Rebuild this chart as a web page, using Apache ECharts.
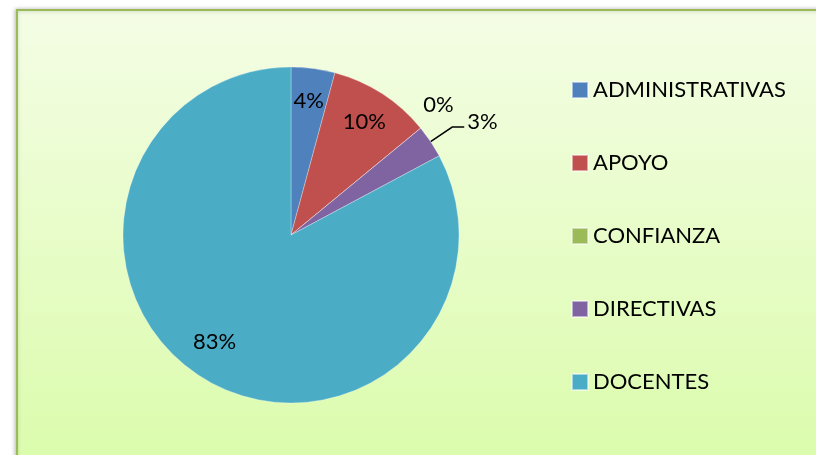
<!DOCTYPE html>
<html>
<head>
<meta charset="utf-8">
<script src="https://cdn.jsdelivr.net/npm/echarts@6/dist/echarts.min.js"></script>
<style>
  html, body { margin: 0; padding: 0; background: #fff; }
  #chart { width: 816px; height: 455px; }
</style>
</head>
<body>
<div id="chart"></div>
<script>
// categorias y valores
var categories = ['ADMINISTRATIVAS', 'APOYO', 'CONFIANZA', 'DIRECTIVAS', 'DOCENTES'];
var values = [12, 28, 0, 9, 236];

var palette = ['#4f81bd', '#c0504d', '#9bbb59', '#8064a2', '#4bacc6'];
var fontFam = 'Lato, "Open Sans", sans-serif';

var myChart = echarts.init(document.getElementById('chart'));

var pieData = categories.map(function (name, i) {
    return { name: name, value: values[i] };
});

// serie de etiquetas (transparente), para ubicar los % mas afuera del centro
var labelData = categories.map(function (name, i) {
    var item = { name: name, value: values[i] };
    if (name === 'CONFIANZA') {
        item.label = { position: 'outside', distanceToLabelLine: -23 };
        item.labelLine = { show: false, length: 33, length2: 0 };
    } else if (name === 'DIRECTIVAS') {
        item.label = { position: 'outside', distanceToLabelLine: 3 };
        item.labelLine = { show: true, length: 26, length2: 12, lineStyle: { color: '#000', width: 1.5 } };
    }
    return item;
});

var option = {
    animation: false,
    color: palette,
    graphic: [{
        type: 'rect',
        shape: { x: 17, y: 10, width: 830, height: 470 },
        style: {
            fill: new echarts.graphic.LinearGradient(0, 0, 0, 1, [
                { offset: 0, color: '#f4fde5' },
                { offset: 1, color: '#dafcaa' }
            ]),
            stroke: '#9bbb59',
            lineWidth: 2,
            shadowBlur: 4,
            shadowColor: 'rgba(0,0,0,0.25)',
            shadowOffsetX: -1
        },
        z: -10
    }],
    legend: {
        orient: 'vertical',
        left: 566,
        top: 74,
        itemWidth: 16,
        itemHeight: 16,
        itemGap: 51,
        icon: 'rect',
        data: categories,
        textStyle: { fontFamily: fontFam, fontSize: 22, color: '#000', lineHeight: 22 }
    },
    series: [
        {
            type: 'pie',
            center: [291, 235],
            radius: [0, 168],
            silent: true,
            data: pieData,
            label: { show: false },
            labelLine: { show: false },
            itemStyle: { borderColor: 'rgba(255,255,255,0.5)', borderWidth: 0.6 }
        },
        {
            type: 'pie',
            center: [291, 235],
            radius: [96, 168],
            silent: true,
            avoidLabelOverlap: false,
            data: labelData,
            itemStyle: { color: 'rgba(0,0,0,0)' },
            label: {
                show: true,
                position: 'inside',
                formatter: function (p) { return Math.round(p.percent) + '%'; },
                fontFamily: fontFam,
                fontSize: 22,
                color: '#000'
            },
            labelLine: { show: false },
            // pequenos ajustes como en el original
            labelLayout: function (p) {
                if (p.dataIndex === 3) return { dy: -5 };
                if (p.dataIndex === 2) return { dy: -2 };
                if (p.dataIndex === 4) return { dx: -7, dy: -9 };
                return {};
            }
        }
    ]
};
myChart.setOption(option);
</script>
</body>
</html>
